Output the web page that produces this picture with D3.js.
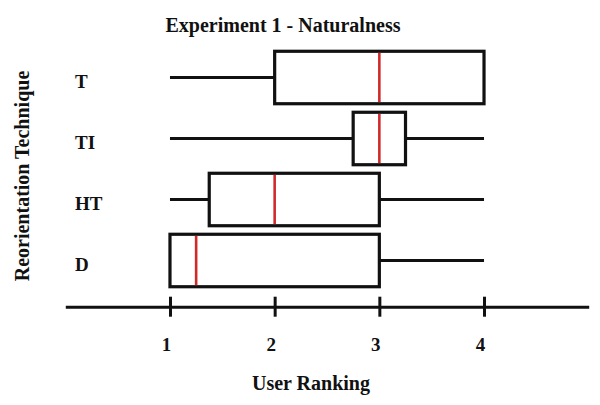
<!DOCTYPE html>
<html>
<head>
<meta charset="utf-8">
<script src="https://cdn.jsdelivr.net/npm/d3@7"></script>
<style>
  html, body { margin: 0; padding: 0; background: #fff; }
  svg { display: block; }
  text { font-family: "Liberation Serif", "Times New Roman", serif; font-weight: bold; fill: #111; }
</style>
</head>
<body>
<svg id="chart" width="600" height="405"></svg>
<script>
// ---- data ----
const categories = ["T", "TI", "HT", "D"];
const mins    = [1, 1, 1, 1];
const q1s     = [2, 2.75, 1.375, 1];
const medians = [3, 3, 2, 1.25];
const q3s     = [4, 3.25, 3, 3];
const maxs    = [4, 4, 4, 4];
const tickValues = [1, 2, 3, 4];
const titleText = "Experiment 1 - Naturalness";
const xTitle = "User Ranking";
const yTitle = "Reorientation Technique";

const rows = categories.map((c, i) => ({
  cat: c, min: mins[i], q1: q1s[i], med: medians[i], q3: q3s[i], max: maxs[i]
}));

const svg = d3.select("#chart");

const x = d3.scaleLinear().domain([0, 5]).range([65.3, 588.7]);
const y = d3.scaleBand().domain(categories).range([47, 291])
  .paddingInner(0.14).paddingOuter(0.07);

const axisY = 306.7;

// title
svg.append("text").attr("x", 283).attr("y", 31.5)
  .attr("text-anchor", "middle").style("font-size", "20px").text(titleText);

// y-axis title
svg.append("text")
  .attr("transform", "translate(29,176) rotate(-90)")
  .attr("text-anchor", "middle").style("font-size", "20px").text(yTitle);

// x-axis title
svg.append("text").attr("x", 311).attr("y", 390)
  .attr("text-anchor", "middle").style("font-size", "20px").text(xTitle);

// category labels
svg.append("g").selectAll("text").data(categories).join("text")
  .attr("x", 75)
  .attr("y", d => y(d) + y.bandwidth() / 2 + 10)
  .style("font-size", "19px")
  .text(d => d);

// x axis
const xAxis = d3.axisBottom(x).tickValues(tickValues).tickSize(0).tickSizeOuter(0)
  .tickFormat(d3.format("d"));
const gx = svg.append("g").attr("transform", `translate(0,${axisY})`).call(xAxis);
gx.select(".domain").attr("stroke", "#111").attr("stroke-width", 3);
gx.selectAll(".tick line").attr("y1", -10).attr("y2", 10)
  .attr("stroke", "#111").attr("stroke-width", 3);
gx.selectAll(".tick text").attr("y", 44).attr("dy", 0).attr("dx", -4)
  .attr("fill", "#111")
  .style("font-family", "'Liberation Serif', 'Times New Roman', serif")
  .style("font-weight", "bold").style("font-size", "19px");

// boxes
const g = svg.append("g");
const box = g.selectAll("g.box").data(rows).join("g").attr("class", "box");

box.append("line")
  .attr("x1", d => x(d.min)).attr("x2", d => x(d.q1))
  .attr("y1", d => y(d.cat) + y.bandwidth() / 2).attr("y2", d => y(d.cat) + y.bandwidth() / 2)
  .attr("stroke", "#111").attr("stroke-width", 3);
box.append("line")
  .attr("x1", d => x(d.q3)).attr("x2", d => x(d.max))
  .attr("y1", d => y(d.cat) + y.bandwidth() / 2).attr("y2", d => y(d.cat) + y.bandwidth() / 2)
  .attr("stroke", "#111").attr("stroke-width", 3);
box.append("rect")
  .attr("x", d => x(d.q1)).attr("width", d => x(d.q3) - x(d.q1))
  .attr("y", d => y(d.cat)).attr("height", y.bandwidth())
  .attr("fill", "none").attr("stroke", "#111").attr("stroke-width", 3.2);
box.append("line")
  .attr("x1", d => x(d.med)).attr("x2", d => x(d.med))
  .attr("y1", d => y(d.cat) + 1.6).attr("y2", d => y(d.cat) + y.bandwidth() - 1.6)
  .attr("stroke", "#d12a2a").attr("stroke-width", 2.6);
</script>
</body>
</html>
